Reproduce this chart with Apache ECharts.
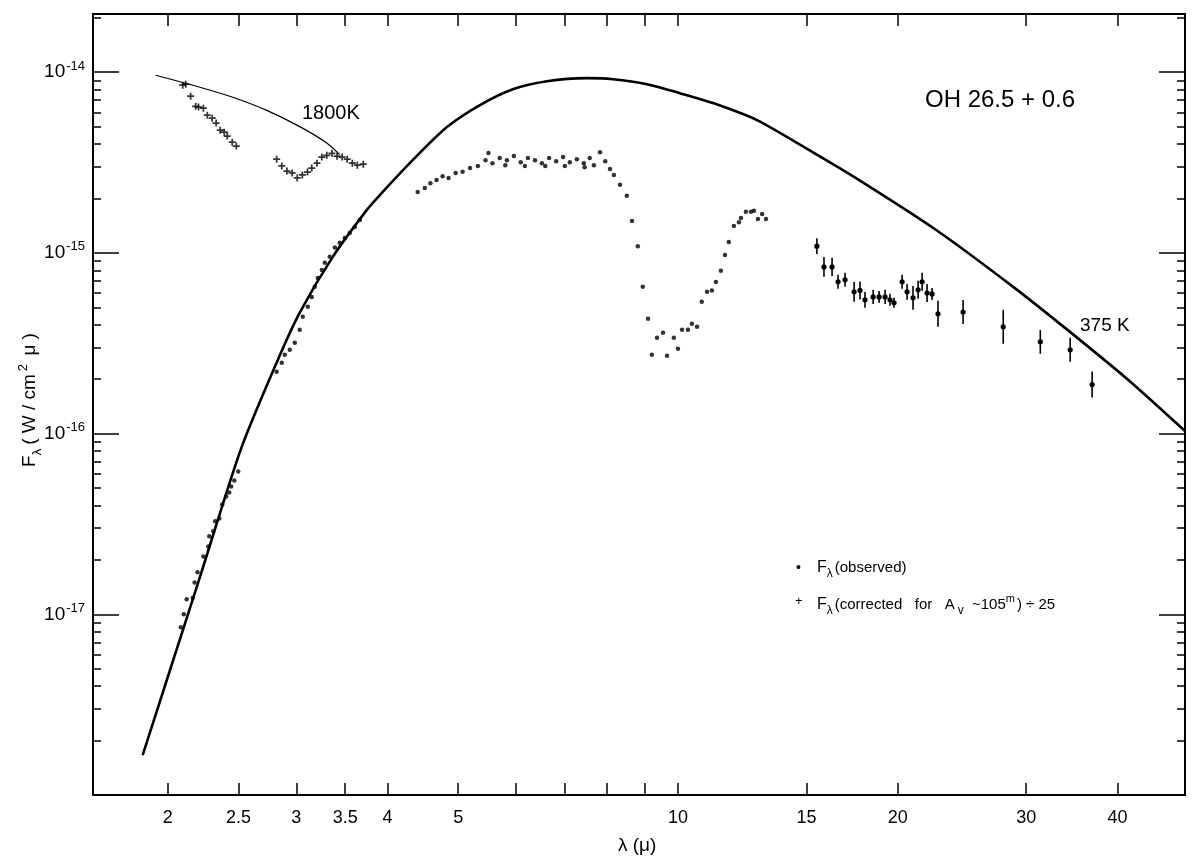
<!DOCTYPE html>
<html><head><meta charset="utf-8">
<script src="https://cdn.jsdelivr.net/npm/echarts@6/dist/echarts.min.js"></script>
<style>html,body{margin:0;padding:0;background:#fff}#c{width:1200px;height:864px}</style>
</head><body><div id="c"></div>
<script>
// 375 K blackbody curve
const bb375Lambda = [1.848,2.012,2.213,2.518,2.820,3.033,3.366,3.748,3.905,4.334,4.825,5.355,5.941,6.613,7.503,8.145,9.069,10.06,11.17,12.83,15.31,17.71,22.58,28.79,34.57,41.40,49.54];
const bb375Flux = [1.66e-18,4.84e-18,1.60e-17,8.16e-17,2.47e-16,4.67e-16,9.51e-16,1.73e-15,2.09e-15,3.27e-15,4.97e-15,6.58e-15,8.05e-15,8.91e-15,9.27e-15,9.15e-15,8.59e-15,7.66e-15,6.75e-15,5.43e-15,3.60e-15,2.53e-15,1.34e-15,6.49e-16,3.61e-16,1.98e-16,1.03e-16];
// 1800 K curve
const bb1800Lambda = [1.925,2.213,2.455,2.734,3.033,3.303,3.441];
const bb1800Flux = [9.62e-15,8.26e-15,7.27e-15,6.15e-15,5.00e-15,4.06e-15,3.50e-15];
// observed points
const obsLambda = [
 2.084,2.104,2.123,2.164,2.177,2.197,2.238,2.273,2.280,2.309,2.323,2.353,2.375,2.405,2.428,2.443,2.467,2.498,
 2.820,2.866,2.893,2.939,2.986,3.033,3.062,3.111,3.150,3.180,3.211,3.252,3.283,3.334,3.388,3.441,3.496,3.551,3.608,3.666,
 4.40,4.50,4.58,4.67,4.76,4.85,4.96,5.07,5.19,5.32,5.45,5.57,5.70,5.83,5.96,6.09,6.23,6.37,6.51,6.66,6.81,6.96,7.11,7.27,7.43,7.57,5.80,6.17,6.58,7.00,7.45,5.50,
 7.67,7.82,7.95,8.07,8.17,8.33,8.51,8.65,8.81,8.95,9.10,9.21,9.36,9.54,9.66,9.87,10.0,10.13,10.32,10.45,10.62,10.78,10.96,11.13,11.27,11.45,11.60,11.74,11.93,12.12,12.20,12.39,12.59,12.71,12.87,13.04,13.20];
const obsFlux = [
 8.47e-18,1.0e-17,1.21e-17,1.23e-17,1.50e-17,1.71e-17,2.09e-17,2.37e-17,2.70e-17,2.88e-17,3.27e-17,3.39e-17,4.05e-17,4.49e-17,4.72e-17,5.09e-17,5.50e-17,6.17e-17,
 2.20e-16,2.47e-16,2.73e-16,2.91e-16,3.18e-16,3.76e-16,4.43e-16,5.03e-16,5.71e-16,6.49e-16,7.27e-16,8.05e-16,8.81e-16,9.51e-16,1.07e-15,1.14e-15,1.21e-15,1.29e-15,1.39e-15,1.52e-15,
 2.17e-15,2.29e-15,2.43e-15,2.53e-15,2.66e-15,2.60e-15,2.77e-15,2.81e-15,2.95e-15,3.03e-15,3.26e-15,3.14e-15,3.35e-15,3.26e-15,3.44e-15,3.18e-15,3.35e-15,3.26e-15,3.14e-15,3.35e-15,3.22e-15,3.39e-15,3.18e-15,3.30e-15,3.14e-15,3.35e-15,3.06e-15,3.03e-15,3.03e-15,3.03e-15,2.98e-15,3.57e-15,
 3.06e-15,3.61e-15,3.22e-15,2.91e-15,2.70e-15,2.38e-15,2.07e-15,1.50e-15,1.09e-15,6.5e-16,4.32e-16,2.73e-16,3.39e-16,3.61e-16,2.70e-16,3.39e-16,2.95e-16,3.76e-16,3.76e-16,4.06e-16,3.90e-16,5.36e-16,6.09e-16,6.2e-16,6.9e-16,7.96e-16,9.75e-16,1.15e-15,1.41e-15,1.48e-15,1.56e-15,1.69e-15,1.69e-15,1.71e-15,1.54e-15,1.64e-15,1.54e-15];
// corrected points (crosses)
const corLambda = [2.097,2.117,2.150,2.184,2.204,2.238,2.266,2.301,2.330,2.360,2.390,2.413,2.451,2.483,
 2.820,2.866,2.913,2.961,3.009,3.058,3.108,3.150,3.202,3.252,3.303,3.357,3.411,3.467,3.523,3.580,3.637,3.706];
const corFlux = [8.48e-15,8.58e-15,7.37e-15,6.48e-15,6.41e-15,6.32e-15,5.78e-15,5.57e-15,5.23e-15,4.78e-15,4.66e-15,4.43e-15,4.10e-15,3.90e-15,
 3.30e-15,3.03e-15,2.84e-15,2.77e-15,2.60e-15,2.70e-15,2.80e-15,2.95e-15,3.14e-15,3.39e-15,3.47e-15,3.56e-15,3.43e-15,3.39e-15,3.30e-15,3.14e-15,3.06e-15,3.10e-15];
// far-IR points with error bars (error in dex)
const errLambda = [15.50,15.85,16.26,16.57,16.94,17.43,17.76,18.04,18.51,18.86,19.22,19.52,19.77,20.28,20.60,20.99,21.33,21.60,21.94,22.29,22.71,24.58,27.90,31.36,34.46,36.93];
const errFlux = [1.09e-15,8.37e-16,8.37e-16,6.92e-16,7.10e-16,6.09e-16,6.2e-16,5.50e-16,5.71e-16,5.71e-16,5.71e-16,5.50e-16,5.3e-16,6.92e-16,6.09e-16,5.64e-16,6.25e-16,6.92e-16,6.0e-16,5.93e-16,4.60e-16,4.71e-16,3.90e-16,3.22e-16,2.91e-16,1.87e-16];
const errDex = [0.044,0.055,0.05,0.039,0.039,0.055,0.05,0.044,0.039,0.033,0.039,0.033,0.028,0.039,0.044,0.066,0.05,0.05,0.05,0.033,0.072,0.066,0.094,0.066,0.066,0.072];
// ticks
const xTickValues = [2,2.5,3,3.5,4,5,6,7,8,9,10,15,20,30,40];
const xLabelValues = [2,2.5,3,3.5,4,5,10,15,20,30,40];
const yMajor = [1e-17,1e-16,1e-15,1e-14];
const yMinor = [2e-18,3e-18,4e-18,5e-18,6e-18,7e-18,8e-18,9e-18,2e-17,3e-17,4e-17,5e-17,6e-17,7e-17,8e-17,9e-17,2e-16,3e-16,4e-16,5e-16,6e-16,7e-16,8e-16,9e-16,2e-15,3e-15,4e-15,5e-15,6e-15,7e-15,8e-15,9e-15,2e-14];

const zip = (a,b)=>a.map((v,i)=>[v,b[i]]);
const F = '"Liberation Sans", Arial, sans-serif';
const chart = echarts.init(document.getElementById('c'));
const ax = {lineStyle:{color:'#000',width:2}};
function xAx(pos, labels){
  return {type:'log', logBase:10, min:1.58, max:49.5, position:pos,
    axisLine:{show:true,onZero:false,...ax},
    axisTick:{show:true,inside:true,length:12,customValues:xTickValues,lineStyle:{color:'#000',width:1.5}},
    axisLabel:{show:labels,customValues:xLabelValues,color:'#000',fontSize:18,fontFamily:F,margin:14,
      formatter:v=>String(v)},
    splitLine:{show:false},minorTick:{show:false}};
}
function yAx(pos, major, labels){
  return {type:'log', logBase:10, min:1e-18, max:2.1e-14, position:pos,
    axisLine:{show:true,onZero:false,...ax},
    axisTick:{show:true,inside:true,length:major?26:8,customValues:major?yMajor:yMinor,lineStyle:{color:'#000',width:1.5}},
    axisLabel:{show:labels,customValues:yMajor,color:'#000',fontFamily:F,margin:8,
      formatter:v=>'{b|10}{s|'+Math.round(Math.log10(v))+'}',
      rich:{b:{fontSize:19,fontFamily:F,color:'#000'},s:{fontSize:13,fontFamily:F,color:'#000',verticalAlign:'top',padding:[0,0,12,1]}}},
    splitLine:{show:false},minorTick:{show:false}};
}
chart.setOption({
  animation:false,
  grid:{left:93,right:15,top:14,bottom:69},
  xAxis:[xAx('bottom',true), xAx('top',false)],
  yAxis:[yAx('left',true,true), yAx('left',false,false), yAx('right',true,false), yAx('right',false,false)],
  series:[
    {type:'line',data:zip(bb375Lambda,bb375Flux),smooth:0.25,showSymbol:false,lineStyle:{color:'#000',width:2.6},z:3},
    {type:'line',data:zip(bb1800Lambda,bb1800Flux),smooth:0.25,showSymbol:false,lineStyle:{color:'#000',width:1.2},z:3},
    {type:'scatter',data:zip(obsLambda,obsFlux),symbol:'circle',symbolSize:4.5,itemStyle:{color:'#000'},z:4},
    {type:'scatter',data:zip(corLambda,corFlux),symbol:'path://M-1,-0.25H1V0.25H-1Z M-0.25,-1H0.25V1H-0.25Z',symbolSize:7,itemStyle:{color:'#000'},z:4},
    {type:'custom',z:4,encode:{x:0,y:1},
      data:errLambda.map((l,i)=>[l,errFlux[i],errFlux[i]*Math.pow(10,-errDex[i]),errFlux[i]*Math.pow(10,errDex[i])]),
      renderItem:(params,api)=>{
        const c=api.coord([api.value(0),api.value(1)]);
        const lo=api.coord([api.value(0),api.value(2)]);
        const hi=api.coord([api.value(0),api.value(3)]);
        return {type:'group',children:[
          {type:'line',shape:{x1:lo[0],y1:lo[1],x2:hi[0],y2:hi[1]},style:{stroke:'#000',lineWidth:1.6}},
          {type:'circle',shape:{cx:c[0],cy:c[1],r:2.6},style:{fill:'#000'}}]};
      }}
  ],
  graphic:[
    {type:'text',left:925,top:88,style:{text:'OH 26.5 + 0.6',font:'24px '+F,fill:'#000'}},
    {type:'text',left:302,top:103,style:{text:'1800K',font:'20px '+F,fill:'#000'}},
    {type:'text',left:1080,top:316,style:{text:'375 K',font:'19px '+F,fill:'#000'}},
    {type:'text',left:796,top:561,style:{text:'•',font:'14px '+F,fill:'#000'}},
    {type:'text',left:817,top:560,style:{text:'{f|F}{l|λ}{t|(observed)}',rich:{f:{fontSize:16,fontFamily:F},l:{fontSize:12,fontFamily:F,verticalAlign:'bottom',padding:[12,2,0,0]},t:{fontSize:15,fontFamily:F}}}},
    {type:'text',left:795,top:595,style:{text:'+',font:'13px '+F,fill:'#000'}},
    {type:'text',left:817,top:593,style:{text:'{f|F}{l|λ}{t|(corrected   for   A}{v|v}{t| ~105}{m|m}{t|) ÷ 25}',rich:{f:{fontSize:16,fontFamily:F},l:{fontSize:12,fontFamily:F,verticalAlign:'bottom',padding:[12,2,0,0]},t:{fontSize:15,fontFamily:F},v:{fontSize:12,fontFamily:F,verticalAlign:'bottom',padding:[10,4,0,3]},m:{fontSize:11,fontFamily:F,verticalAlign:'top',padding:[0,2,10,0]}}}},
    {type:'text',left:618,top:836,style:{text:'λ (μ)',font:'19px '+F,fill:'#000'}},
    {type:'text',x:30,y:400,rotation:Math.PI/2,style:{text:'{f|F}{l|λ}{t|( W / cm}{s|2}{t| μ )}',align:'center',verticalAlign:'middle',rich:{f:{fontSize:19,fontFamily:F},l:{fontSize:13,fontFamily:F,verticalAlign:'bottom',padding:[14,4,0,0]},t:{fontSize:19,fontFamily:F},s:{fontSize:13,fontFamily:F,verticalAlign:'top',padding:[0,3,14,3]}}}}
  ]
});
</script></body></html>
